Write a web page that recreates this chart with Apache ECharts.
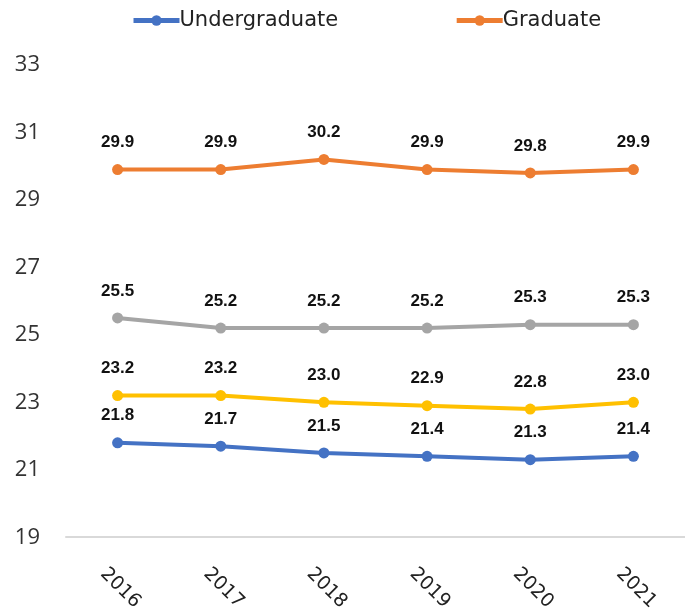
<!DOCTYPE html>
<html>
<head>
<meta charset="utf-8">
<script src="https://cdn.jsdelivr.net/npm/echarts@6/dist/echarts.min.js"></script>
<style>
  html, body { margin: 0; padding: 0; background: #fff; }
  #chart { width: 685px; height: 614px; }
</style>
</head>
<body>
<div id="chart"></div>
<script>
// data
const years = ['2016', '2017', '2018', '2019', '2020', '2021'];
const undergraduate = [21.8, 21.7, 21.5, 21.4, 21.3, 21.4];
const graduate = [29.9, 29.9, 30.2, 29.9, 29.8, 29.9];
const grayLine = [25.5, 25.2, 25.2, 25.2, 25.3, 25.3];
const yellowLine = [23.2, 23.2, 23.0, 22.9, 22.8, 23.0];

const chart = echarts.init(document.getElementById('chart'));

function line(name, color, data) {
  return {
    name: name,
    type: 'line',
    data: data,
    symbol: 'circle',
    symbolSize: 11,
    lineStyle: { width: 4, color: color },
    itemStyle: { color: color },
    label: {
      show: true,
      position: 'top',
      distance: 13,
      fontFamily: 'Liberation Sans',
      fontWeight: 'bold',
      fontSize: 17,
      color: '#111',
      formatter: p => p.value.toFixed(1)
    }
  };
}

chart.setOption({
  animation: false,
  legend: {
    data: ['Undergraduate', 'Graduate'],
    top: 5,
    left: 126,
    itemWidth: 46,
    itemHeight: 13,
    itemGap: 116,
    lineStyle: { width: 5 },
    textStyle: { fontFamily: 'DejaVu Sans', fontSize: 21, color: '#222', padding: [0, 0, 0, -5] }
  },
  grid: { left: 66, right: -7, top: 65, bottom: 75 },
  xAxis: {
    type: 'category',
    data: years,
    boundaryGap: true,
    axisLine: { lineStyle: { color: '#d9d9d9', width: 2 } },
    axisTick: { show: false },
    axisLabel: {
      rotate: -45,
      align: 'center',
      verticalAlign: 'middle',
      margin: 48,
      padding: [0, 0, 0, 8],
      fontFamily: 'DejaVu Sans',
      fontSize: 19,
      color: '#222'
    }
  },
  yAxis: {
    type: 'value',
    min: 19,
    max: 33,
    interval: 2,
    splitLine: { show: false },
    axisLine: { show: false },
    axisLabel: {
      margin: 26,
      fontFamily: 'Open Sans',
      fontSize: 22,
      color: '#333'
    }
  },
  series: [
    line('Undergraduate', '#4472C4', undergraduate),
    line('Graduate', '#ED7D31', graduate),
    line('Series 3', '#A5A5A5', grayLine),
    line('Series 4', '#FFC000', yellowLine)
  ]
});
</script>
</body>
</html>
